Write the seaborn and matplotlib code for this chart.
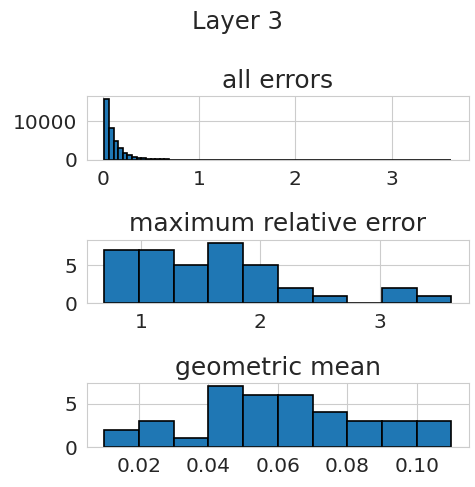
import numpy as np
import pandas as pd
import matplotlib
matplotlib.use("Agg")
import matplotlib.pyplot as plt
import seaborn as sns

# all errors: 75 bins from 0.017 to 3.62
all_lo, all_hi = 0.017, 3.62
all_counts = [15800, 8380, 4870, 3000, 1870, 1280, 850, 590, 430, 310,
              230, 170, 125, 95, 70, 55, 42, 33, 26, 20,
              16, 13, 10, 8, 7, 6, 5, 4, 4, 3,
              3, 3, 2, 2, 2, 2, 1, 1, 1, 1,
              1, 1, 1, 1, 1, 0, 1, 0, 1, 0,
              1, 0, 0, 1, 0, 0, 1, 0, 0, 1,
              0, 0, 1, 0, 0, 0, 1, 0, 0, 1,
              0, 0, 0, 1, 1]

# maximum relative error
max_lo, max_hi = 0.692, 3.603
max_counts = [7, 7, 5, 8, 5, 2, 1, 0, 2, 1]

# geometric mean
geo_lo, geo_hi = 0.01, 0.11
geo_counts = [2, 3, 1, 7, 6, 6, 4, 3, 3, 3]

titles = ["all errors", "maximum relative error", "geometric mean"]

sns.set_style("whitegrid")
plt.rcParams["font.family"] = ["DejaVu Sans"]
plt.rcParams["xtick.labelsize"] = 14.5
plt.rcParams["ytick.labelsize"] = 14.5

fig, axes = plt.subplots(3, 1, figsize=(4.75, 4.87), dpi=100)
fig.subplots_adjust(left=0.183, right=0.987, top=0.803, bottom=0.082, hspace=1.25)

series = [(all_lo, all_hi, all_counts),
          (max_lo, max_hi, max_counts),
          (geo_lo, geo_hi, geo_counts)]

for ax, (lo, hi, counts), title in zip(axes, series, titles):
    edges = np.linspace(lo, hi, len(counts) + 1)
    df = pd.DataFrame({"value": (edges[:-1] + edges[1:]) / 2, "count": counts})
    sns.histplot(data=df, x="value", weights="count", bins=list(edges), ax=ax,
                 color="#1f77b4", edgecolor="black", linewidth=1.2, alpha=1)
    ax.set_title(title, fontsize=18, color=".15")
    ax.set_xlabel("")
    ax.set_ylabel("")

axes[0].set_yticks([0, 10000])
axes[1].set_yticks([0, 5])
axes[2].set_yticks([0, 5])
axes[2].set_xticks([0.02, 0.04, 0.06, 0.08, 0.10])
axes[2].set_xticklabels(["0.02", "0.04", "0.06", "0.08", "0.10"])

fig.suptitle("Layer 3", fontsize=17.5, color=".15", y=0.98)

fig.savefig("out.png", dpi=100)
